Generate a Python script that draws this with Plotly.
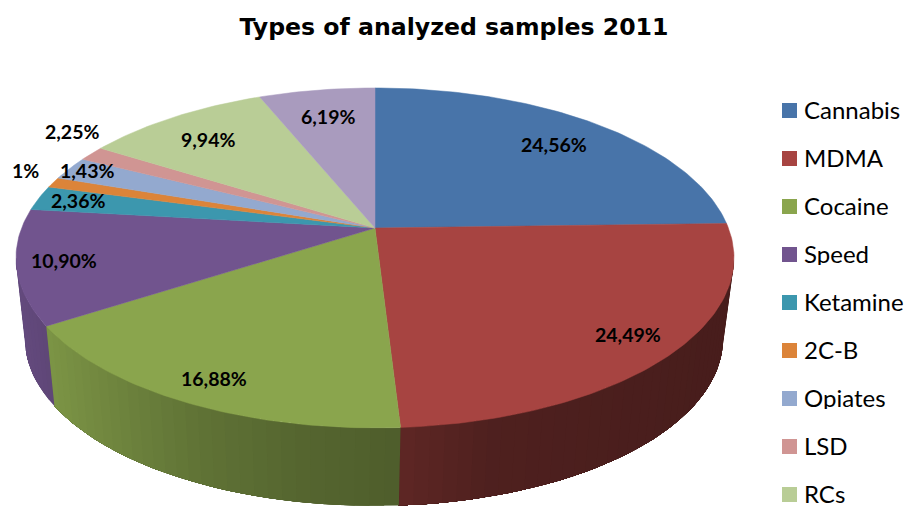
import numpy as np
import plotly.graph_objects as go

# ---- data ----
categories = ["Cannabis", "MDMA", "Cocaine", "Speed", "Ketamine", "2C-B", "Opiates", "LSD", "RCs", "Others"]
values = [24.56, 24.49, 16.88, 10.90, 2.36, 1.00, 2.25, 1.43, 9.94, 6.19]
value_labels = ["24,56%", "24,49%", "16,88%", "10,90%", "2,36%", "1%", "2,25%", "1,43%", "9,94%", "6,19%"]
legend_categories = categories[:9]  # the tenth entry falls below the picture
title_text = "Types of analyzed samples 2011"

# ---- style ----
colors = ["#4874a9", "#a74441", "#8aa54d", "#71548e", "#3c97ae", "#dc8439",
          "#93a9cf", "#d09593", "#b9cd96", "#a99bbe"]
label_centers = [(554, 144), (628, 334), (214, 378), (64, 260), (78, 200),
                 (25, 170), (72, 131), (87, 170), (208, 139), (328, 116)]
W, H = 908, 506
APEX = (375, 228)
TOP = dict(cx=375, cy=258, rx=359, ry=170)
BOT = dict(cx=374, cy=339, rx=349, ry=167)
K = 0.176
RXP, RYP = 353.4, 164.7
side_stops_x = [20, 47, 48, 120, 200, 300, 400, 500, 720]
side_stops_f = [0.88, 0.84, 0.90, 0.80, 0.70, 0.62, 0.57, 0.47, 0.43]


def project(theta):
    """Clockwise angle from 12 o'clock -> pixel position on the tilted top face."""
    u, v = np.sin(theta), np.cos(theta)
    d = 1 + K * v
    return APEX[0] + RXP * u / d, APEX[1] - RYP * v / d


def lower(x, y):
    """Matching point on the lower rim."""
    c = (x - TOP["cx"]) / TOP["rx"]
    s = (y - TOP["cy"]) / TOP["ry"]
    return BOT["cx"] + BOT["rx"] * c, BOT["cy"] + BOT["ry"] * s


def shade(hex_color, f):
    r, g, b = (int(hex_color[i:i + 2], 16) for i in (1, 3, 5))
    return f"rgb({round(r * f)},{round(g * f)},{round(b * f)})"


fig = go.Figure()
fractions = np.array(values) / sum(values)
edges = np.concatenate([[0], np.cumsum(fractions)]) * 2 * np.pi

# side wall: each slice is painted from its far end inwards so strips overlap
for i, color in enumerate(colors):
    n = max(2, int(np.degrees(edges[i + 1] - edges[i]) / 2) + 1)
    th = np.linspace(edges[i], edges[i + 1], n)
    for a in th[:-1]:
        rim = th[th >= a]
        rx, ry = project(rim)
        keep = ry >= TOP["cy"] - 1
        rx, ry = rx[keep], ry[keep]
        if len(rx) < 2:
            continue
        lx, ly = lower(rx, ry)
        xs = np.concatenate([rx, lx[::-1], rx[:1]])
        ys = np.concatenate([ry, ly[::-1], ry[:1]])
        f = float(np.interp(rx[0], side_stops_x, side_stops_f))
        fig.add_trace(go.Scatter(x=xs, y=ys, mode="lines", fill="toself", fillcolor=shade(color, f),
                                 line=dict(width=0), hoverinfo="skip", showlegend=False))

# top face
for i, color in enumerate(colors):
    th = np.linspace(edges[i], edges[i + 1], max(3, int(np.degrees(edges[i + 1] - edges[i])) + 2))
    px, py = project(th)
    xs = np.concatenate([[APEX[0]], px, [APEX[0]]])
    ys = np.concatenate([[APEX[1]], py, [APEX[1]]])
    fig.add_trace(go.Scatter(x=xs, y=ys, mode="lines", fill="toself", fillcolor=color,
                             line=dict(color=color, width=0.5), name=categories[i],
                             text=value_labels[i], hoverinfo="name+text", showlegend=False))

annotations = []
for lab, (x, y) in zip(value_labels, label_centers):
    annotations.append(dict(x=x, y=y, text=lab, showarrow=False, xref="x", yref="y",
                            font=dict(family="Lato", size=19.5, color="#000000", weight=700)))

# legend
legend_y = [110.5 + 48 * i for i in range(len(legend_categories))]
fig.add_trace(go.Scatter(x=[789.5] * len(legend_categories), y=legend_y, mode="markers",
                         marker=dict(symbol="square", size=15, color=colors[:len(legend_categories)]),
                         hoverinfo="skip", showlegend=False))
for name, y in zip(legend_categories, legend_y):
    annotations.append(dict(x=801.5, y=y - 1.5, text=name, showarrow=False, xanchor="left", xref="x", yref="y",
                            height=24, font=dict(family="Lato", size=24, color="#000000")))

fig.update_layout(
    width=W, height=H, margin=dict(l=0, r=0, t=0, b=0),
    paper_bgcolor="white", plot_bgcolor="white",
    xaxis=dict(range=[0, W], visible=False, fixedrange=True),
    yaxis=dict(range=[H, 0], visible=False, fixedrange=True),
    title=dict(text=title_text, x=0.5, xanchor="center", y=1 - 27 / H, yanchor="middle",
               font=dict(family="DejaVu Sans", size=23.6, color="#000000", weight=700)),
    annotations=annotations,
    showlegend=False,
)
fig.write_html("out.html",
               post_script="document.body.style.margin='0';document.documentElement.style.overflow='hidden';",
               config={"displayModeBar": False})
